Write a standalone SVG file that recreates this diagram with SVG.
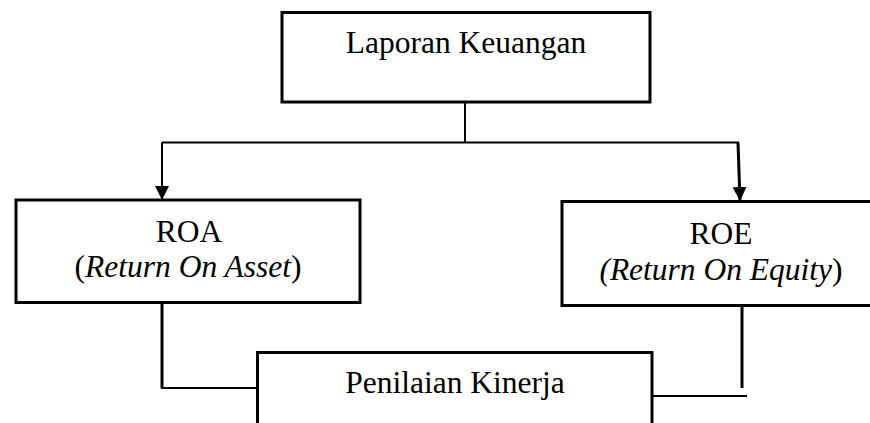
<svg xmlns="http://www.w3.org/2000/svg" width="870" height="423" viewBox="0 0 870 423">
<style>
.box{fill:#fff;stroke:#000;stroke-width:3;stroke-linejoin:miter}
.t{font-family:'Liberation Serif','Times New Roman',serif;font-size:31.5px;fill:#000;text-anchor:middle}
.i{font-style:italic}
.c{fill:none;stroke:#000;stroke-width:2}
.ck{fill:none;stroke:#000;stroke-width:3}
</style>
<defs>
<marker id="ah" markerUnits="userSpaceOnUse" markerWidth="16" markerHeight="14" refX="14" refY="7" orient="auto">
<path d="M0,0 L14,7 L0,14 Z" fill="#000"/>
</marker>
</defs>
<rect width="870" height="423" fill="#fff"/>
<g id="connectors">
<polyline class="c" points="465,102 465,142.5"/>
<polyline class="c" points="162,142.5 739,142.5"/>
<line class="c" x1="162" y1="142.5" x2="162" y2="200" marker-end="url(#ah)"/>
<line class="ck" x1="738" y1="142.5" x2="740" y2="201" marker-end="url(#ah)"/>
<polyline class="ck" points="162,296 162,388"/>
<polyline class="c" points="161,388 258,388"/>
<polyline class="ck" points="742,305 742,388"/>
<polyline class="c" points="652,396 747,396"/>
</g>
<g id="laporan">
<rect class="box" x="282" y="12.5" width="368" height="89.5"/>
<text class="t" x="466" y="53">Laporan Keuangan</text>
</g>
<g id="roa">
<rect class="box" x="16" y="200" width="344" height="102.5"/>
<text class="t" x="189" y="241.5">ROA</text>
<text class="t" x="188" y="277">(<tspan class="i">Return On Asset</tspan>)</text>
</g>
<g id="roe">
<rect class="box" x="562" y="201.5" width="320" height="104"/>
<text class="t" x="721" y="244">ROE</text>
<text class="t" x="721" y="280"><tspan class="i">(Return On Equity</tspan>)</text>
</g>
<g id="penilaian">
<rect class="box" x="257.5" y="352.5" width="394.5" height="80"/>
<text class="t" x="455" y="392.5">Penilaian Kinerja</text>
</g>
</svg>
